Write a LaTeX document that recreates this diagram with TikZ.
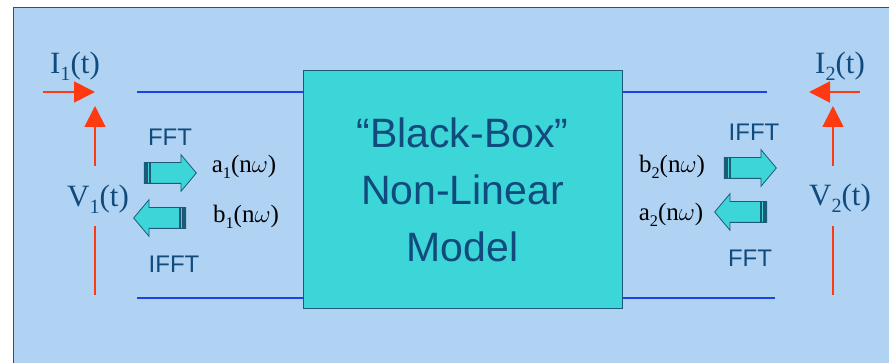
\documentclass[tikz,border=0pt]{standalone}
\usepackage{fontspec}
\setmainfont{Liberation Serif}
\setsansfont{Liberation Sans}
\usetikzlibrary{positioning, calc, arrows.meta, shapes.arrows}

\definecolor{panel}{HTML}{B0D3F4}
\definecolor{boxfill}{HTML}{3CD5D8}
\definecolor{ink}{HTML}{114A7C}
\definecolor{wire}{HTML}{1844E6}
\definecolor{probe}{HTML}{FF3A12}
\definecolor{edge}{HTML}{1D5A78}

\newcommand{\idx}[1]{\raisebox{-0.5ex}{\scalebox{0.65}{#1}}}

\begin{document}
\begin{tikzpicture}[
    x=1pt, y=-1pt,
    model/.style={draw=edge, fill=boxfill, line width=1pt, minimum width=319pt, minimum height=238pt, inner sep=0pt, align=center, text=ink, font=\sffamily\fontsize{41}{57}\selectfont},
    port/.style={text=ink, font=\fontsize{31}{31}\selectfont, inner sep=0pt},
    wave/.style={text=black, font=\fontsize{25}{25}\selectfont, inner sep=0pt},
    xform/.style={text=ink, font=\sffamily\fontsize{24}{24}\selectfont, inner sep=0pt},
    fat/.style={single arrow, draw=edge, fill=boxfill, line width=0.8pt, minimum height=52pt, minimum width=36pt, single arrow head extend=8pt, single arrow tip angle=100, inner xsep=0pt, inner ysep=10pt},
    fatright/.style={fat, path picture={
        \fill[edge] (path picture bounding box.south west) rectangle ++(3.5pt,36pt);
        \fill[edge] ($(path picture bounding box.south west)+(5pt,0pt)$) rectangle ++(2pt,36pt);}},
    fatleft/.style={fat, shape border rotate=180, path picture={
        \fill[edge] (path picture bounding box.south east) rectangle ++(-3.5pt,36pt);
        \fill[edge] ($(path picture bounding box.south east)+(-5pt,0pt)$) rectangle ++(-2pt,36pt);}},
    wireline/.style={wire, line width=2.2pt},
    probeline/.style={probe, line width=1.8pt},
    probetip/.style={probeline, -{Triangle[length=21pt, width=21pt]}}
]
    % Panel
    \useasboundingbox (0,0) rectangle (889,363);
    \draw[edge, fill=panel, line width=0.8pt] (13,7) rectangle (900,380);

    % Nodes
    \node[model] (box) at (462.5,189.5) {“Black-Box”\\Non-Linear\\Model};

    \node[port] (i1) at (75,66) {I\idx{1}(t)};
    \node[port] (v1) at (98,199) {V\idx{1}(t)};
    \node[xform] (fft1) at (170,137) {FFT};
    \node[xform] (ifft1) at (174,264) {IFFT};
    \node[fatright] (in1) at (166,173) {};
    \node[fatleft] (out1) at (164,218) {};
    \node[wave] (a1) at (244,167) {a\idx{1}(n$\omega$)};
    \node[wave] (b1) at (246,217) {b\idx{1}(n$\omega$)};

    \node[port] (i2) at (840,66) {I\idx{2}(t)};
    \node[port] (v2) at (840,198) {V\idx{2}(t)};
    \node[xform] (ifft2) at (754,132) {IFFT};
    \node[xform] (fft2) at (750,258) {FFT};
    \node[fatright] (out2) at (746,168) {};
    \node[fatleft] (in2) at (745,212) {};
    \node[wave] (b2) at (672,167) {b\idx{2}(n$\omega$)};
    \node[wave] (a2) at (671,215) {a\idx{2}(n$\omega$)};

    % Port wires
    \coordinate (p1top) at (137,92);
    \coordinate (p1bot) at (137,298);
    \coordinate (p2top) at (767,92);
    \coordinate (p2bot) at (775,298);
    \draw[wireline] (p1top) -- (box.west |- p1top);
    \draw[wireline] (p1bot) -- (box.west |- p1bot);
    \draw[wireline] (box.east |- p2top) -- (p2top);
    \draw[wireline] (box.east |- p2bot) -- (p2bot);

    % Current and voltage markers
    \coordinate (i1tail) at (43,92);
    \coordinate (i1head) at (95,92);
    \coordinate (v1head) at (95,106);
    \coordinate (v1mid) at (95,166);
    \coordinate (v1low) at (95,226);
    \coordinate (v1foot) at (95,295);
    \draw[probetip] (i1tail) -- (i1head);
    \draw[probetip] (v1mid) -- (v1head);
    \draw[probeline] (v1low) -- (v1foot);

    \coordinate (i2tail) at (860,92);
    \coordinate (i2head) at (809,92);
    \coordinate (v2head) at (833,106);
    \coordinate (v2mid) at (833,166);
    \coordinate (v2low) at (833,226);
    \coordinate (v2foot) at (833,295);
    \draw[probetip] (i2tail) -- (i2head);
    \draw[probetip] (v2mid) -- (v2head);
    \draw[probeline] (v2low) -- (v2foot);
\end{tikzpicture}
\end{document}
